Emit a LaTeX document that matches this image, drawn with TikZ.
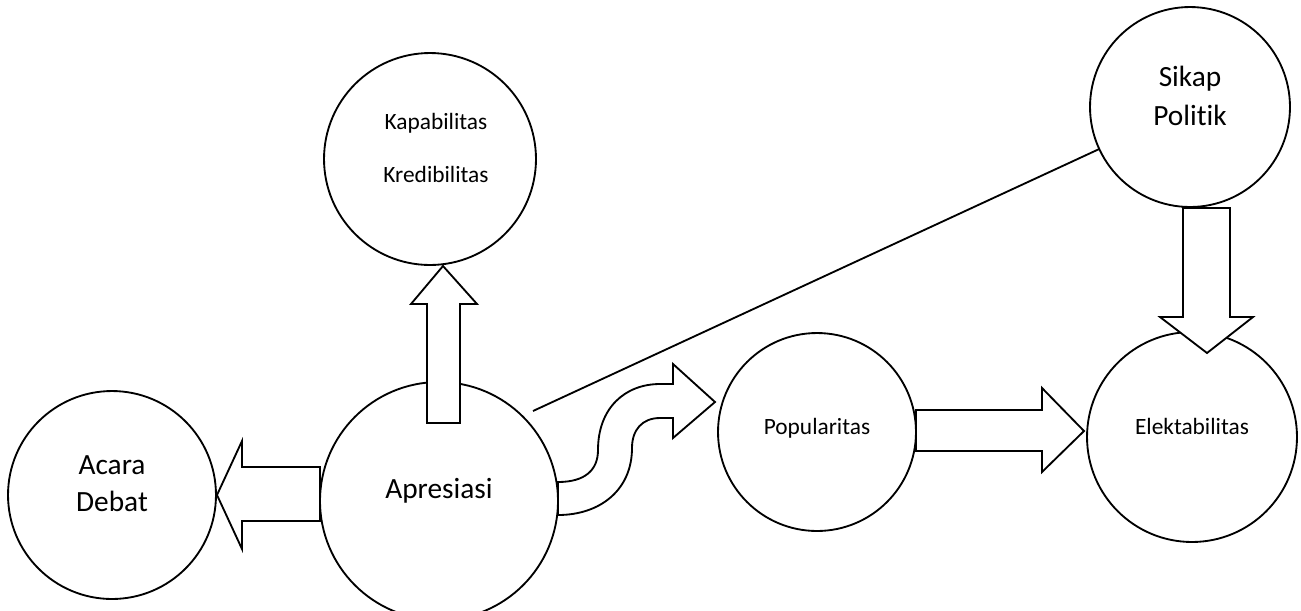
\documentclass[tikz,border=0pt]{standalone}
\usepackage{fontspec}
\setmainfont[Ligatures=NoCommon]{Carlito}
\begin{document}
\begin{tikzpicture}[x=0.02cm,y=-0.02cm,
  bub/.style={circle,draw,line width=1.05pt,inner sep=0pt,outer sep=0pt},
  small/.style={anchor=mid,inner sep=0pt,font=\fontsize{13.3}{16}\selectfont},
  large/.style={anchor=mid,inner sep=0pt,font=\fontsize{16.7}{20}\selectfont},
  blk/.style={draw,fill=white,line width=1.05pt,line join=miter},
  conn/.style={draw,line width=1.05pt}]
\useasboundingbox (0,0) rectangle (1301,610);
\begin{scope}
\clip (0,0) rectangle (1301,610);
% circles
\node[bub,minimum size=4.16cm] (acara) at (112,495) {};
\node[bub,minimum size=4.76cm] (apr) at (439,501) {};
\node[bub,minimum size=4.24cm] (kap) at (430,159) {};
\node[bub,minimum size=4.0cm] (sikap) at (1190,107) {};
\node[bub,minimum size=3.96cm] (pop) at (817,432) {};
\node[bub,minimum size=4.2cm] (elek) at (1192,437) {};
% texts
\node[large] (t1) at (112,470) {Acara};
\node[large] (t2) at (112,507) {Debat};
\node[large] (t3) at (439,494) {Apresiasi};
\node[small] (t4) at (436,125) {Kapabilitas};
\node[small] (t5) at (436,178) {Kredibilitas};
\node[large] (t6) at (1190,82) {Sikap};
\node[large] (t7) at (1190,121) {Politik};
\node[small] (t8) at (817,430) {Popularitas};
\node[small] (t9) at (1192,430) {Elektabilitas};
% line to Sikap Politik
\coordinate (ls) at (533,411);
\draw[conn] (ls) -- (sikap);
% block arrows
\path[blk] (217,495) -- (242,441) -- (242,467) -- (320,467) -- (320,521) -- (242,521) -- (242,549) -- cycle;
\path[blk] (427,423) -- (427,304) -- (411,304) -- (443,266) -- (477,304) -- (460,304) -- (460,423) -- cycle;
\path[blk] (1183,208) -- (1230,208) -- (1230,317) -- (1253,317) -- (1207,353) -- (1160,317) -- (1183,317) -- cycle;
\path[blk] (916,410) -- (1042,410) -- (1042,388) -- (1084,431) -- (1042,472) -- (1042,451) -- (916,451) -- cycle;
\path[blk] (558,482) .. controls (585,482) and (598,470) .. (598,450)
  .. controls (598,408) and (625,384) .. (660,384) -- (673,384) -- (673,364) -- (715,402)
  -- (673,438) -- (673,418) -- (660,418) .. controls (642,418) and (632,430) .. (632,448)
  .. controls (632,490) and (600,515) .. (558,515) -- cycle;
\end{scope}
\end{tikzpicture}
\end{document}
